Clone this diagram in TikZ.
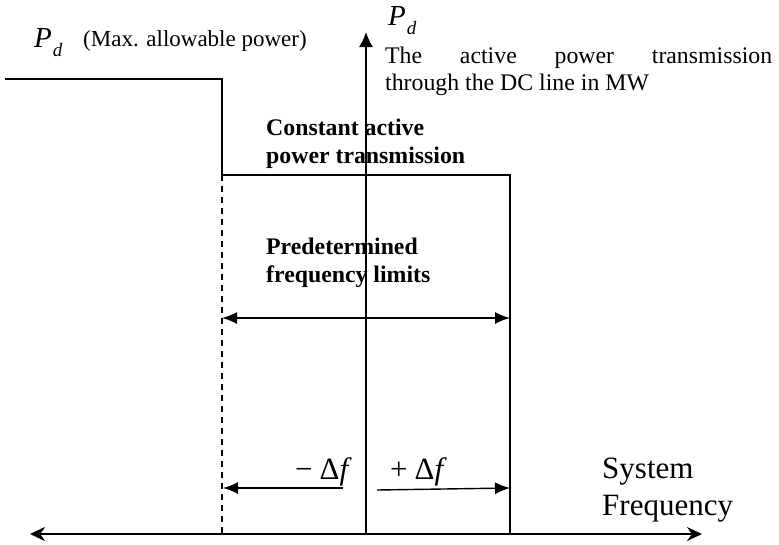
\documentclass[tikz,border=0pt]{standalone}
\usepackage{fontspec}
\setmainfont{Liberation Serif}
\usetikzlibrary{arrows.meta}
\newcommand{\pdsym}{\textit{P}\kern1pt\raisebox{-9pt}{\fontsize{19}{19}\selectfont\textit{d}}}
\begin{document}
\begin{tikzpicture}[x=1pt,y=-1pt,
    axis/.style={line width=1.6pt},
    curve/.style={line width=1.4pt},
    lbl/.style={inner sep=0pt,anchor=base west,font=\fontsize{23}{27}\selectfont},
    desclbl/.style={lbl,font=\fontsize{23.8}{27}\selectfont},
    boldlbl/.style={lbl,font=\fontsize{23.8}{28}\selectfont\bfseries},
    symlbl/.style={lbl,font=\fontsize{29}{30}\selectfont},
    biglbl/.style={lbl,font=\fontsize{31}{37}\selectfont}]
\useasboundingbox (0,0) rectangle (779,544);
% axes
\coordinate (xl) at (30,534);
\coordinate (xr) at (702,534);
\coordinate (o) at (366,534);
\coordinate (yt) at (366,32);
\draw[axis,line width=2.4pt,{Stealth[length=15pt,width=14pt]}-{Stealth[length=15pt,width=14pt]}] (xl) -- (xr);
\draw[axis,-{Latex[length=15pt,width=14pt]}] (o) -- (yt);
% power curve
\coordinate (a) at (5,79);
\coordinate (b) at (222,79);
\coordinate (c) at (222,175);
\coordinate (d) at (510,175);
\coordinate (e) at (510,534);
\coordinate (f) at (222,534);
\draw[curve] (a) -- (b) -- (c) -- (d) -- (e);
\draw[curve,dash pattern=on 6pt off 5pt] (c) -- (f);
% frequency limits
\coordinate (lo) at (222,318);
\coordinate (hi) at (510,318);
\draw[curve,{Latex[length=15pt,width=12pt]}-{Latex[length=15pt,width=12pt]}] (lo) -- (hi);
\coordinate (m1) at (343,488);
\coordinate (m2) at (223,488);
\coordinate (p1) at (377,490);
\coordinate (p2) at (510,488);
\draw[curve,-{Latex[length=15pt,width=12pt]}] (m1) -- (m2);
\draw[curve,-{Latex[length=15pt,width=12pt]}] (p1) -- (p2);
% labels
\node[symlbl] (pmax) at (34,47) {\pdsym};
\node[lbl] (maxtxt) at (83,46) {(Max. allowable power)};
\node[symlbl] (paxis) at (388,25) {\pdsym};
\node[desclbl,text width=387pt,align=left] (desc1) at (385,63) {The\hfill active\hfill power\hfill transmission};
\node[desclbl] (desc2) at (385,90) {through the DC line in MW};
\node[boldlbl] (const1) at (266,135) {Constant active};
\node[boldlbl] (const2) at (266,163) {power transmission};
\node[boldlbl] (pred1) at (266,254) {Predetermined};
\node[boldlbl] (pred2) at (266,282) {frequency limits};
\node[biglbl] (minus) at (295,479) {−\kern7pt Δ\textit{f}};
\node[biglbl] (plus) at (390,479) {+\kern7pt Δ\textit{f}};
\node[biglbl] (sys1) at (602,478) {System};
\node[biglbl] (sys2) at (602,515) {Frequency};
\end{tikzpicture}
\end{document}
